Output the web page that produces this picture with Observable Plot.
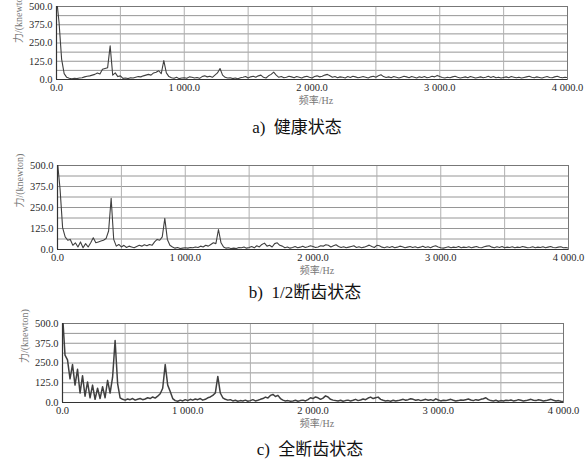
<!DOCTYPE html>
<html>
<head>
<meta charset="utf-8">
<script src="https://cdn.jsdelivr.net/npm/d3@7"></script>
<script src="https://cdn.jsdelivr.net/npm/@observablehq/plot@0.6"></script>
<style>
  html, body { margin: 0; padding: 0; background: #fff; }
  #wrap { position: relative; width: 587px; height: 460px; overflow: hidden; background: #fff; }
  .panel { position: absolute; left: 0; }
  .panel svg text { font-family: "Liberation Serif", "Noto Sans CJK SC", serif; }
  .cap { position: absolute; width: 240px; text-align: center; white-space: pre;
         font-family: "Liberation Serif", "Noto Sans CJK SC", serif; font-size: 17px; line-height: 20px; color: #111; }
</style>
</head>
<body>
<div id="wrap"></div>
<script>
// ---- data ----
const freqStepHz = 20;                       // spectrum sampled every 20 Hz, 0..4000 Hz
const freqs = d3.range(0, 4001, freqStepHz);
const xTicks = [0, 1000, 2000, 3000, 4000];
const xGrid = [500, 1000, 1500, 2000, 2500, 3000, 3500];
const yTicks = [0, 125, 250, 375, 500];
const yGrid = [62.5, 125, 187.5, 250, 312.5, 375, 437.5];
const yLabel = "力/(knewton)";
const xLabel = "频率/Hz";
const captions = ["a)  健康状态", "b)  1/2断齿状态", "c)  全断齿状态"];

// a) healthy
const valsA = [
  560,390,140,40,15,8,5,8,6,10,
  12,18,22,25,30,35,45,38,70,75,
  80,230,30,45,20,25,8,10,6,12,
  10,15,20,18,25,30,35,30,45,50,
  60,40,130,45,20,12,8,15,6,10,
  12,8,18,15,10,14,8,20,25,18,
  22,15,30,45,75,30,15,10,12,6,
  10,5,12,15,20,10,18,22,15,25,
  30,15,10,25,35,50,30,15,20,12,
  15,22,18,12,20,15,10,18,22,15,
  10,20,25,18,22,30,35,25,15,20,
  12,18,15,10,20,14,22,18,12,16,
  20,15,10,18,22,16,25,32,20,14,
  18,12,20,15,10,16,22,18,12,20,
  15,10,18,14,20,12,16,22,18,28,
  20,14,10,16,12,18,22,15,10,14,
  18,12,20,16,10,14,18,12,16,22,
  14,20,12,16,10,14,18,12,20,16,
  12,16,10,14,18,22,15,12,18,14,
  10,16,20,14,12,18,22,16,12,15,
  14
];
// b) half broken tooth
const valsB = [
  520,360,130,75,55,60,25,40,15,45,
  10,35,15,40,70,40,45,50,55,65,
  110,305,60,20,30,15,25,12,20,15,
  10,18,25,20,28,22,30,25,45,60,
  55,75,185,60,25,15,8,12,6,8,
  10,8,12,10,15,12,20,15,25,20,
  30,40,35,119,40,15,8,10,5,8,
  6,12,10,15,8,12,18,10,22,15,
  30,38,20,25,15,35,40,25,20,10,
  15,8,12,18,10,14,20,12,16,22,
  18,12,15,22,20,28,25,15,22,28,
  18,12,16,10,14,18,22,12,16,10,
  14,20,26,18,12,25,22,14,10,16,
  12,18,10,14,20,16,10,14,18,12,
  16,10,14,20,12,16,10,18,22,15,
  10,8,12,16,10,14,12,18,10,14,
  12,16,10,14,18,12,10,16,20,22,
  14,10,16,12,18,10,14,12,16,10,
  14,12,18,14,10,12,16,10,14,12,
  16,10,14,18,12,10,14,16,10,12,
  8
];
// c) fully broken tooth
const valsC = [
  560,300,270,150,240,110,210,60,170,40,
  130,30,110,20,90,25,100,30,140,60,
  160,392,120,30,20,15,22,18,25,15,
  20,25,18,22,30,25,35,28,40,55,
  90,240,110,70,25,12,8,15,10,18,
  12,20,15,22,18,25,15,20,30,35,
  45,60,165,60,30,20,15,18,10,14,
  8,12,10,15,8,12,18,10,14,20,
  25,34,28,45,51,38,45,25,15,10,
  12,8,10,14,8,12,15,10,18,30,
  25,35,30,20,28,42,35,20,15,12,
  10,14,8,12,15,10,14,20,12,16,
  22,18,28,34,25,30,34,20,14,10,
  12,8,14,10,12,16,20,14,18,24,
  20,14,18,12,16,20,14,18,12,23,
  16,10,14,12,16,20,14,10,12,16,
  14,18,22,16,12,18,14,20,24,30,
  18,12,10,14,8,12,10,14,12,16,
  10,12,18,14,10,12,16,20,14,12,
  17,14,10,12,16,20,14,10,12,8,
  6
];

// ---- drawing ----
const loc = d3.formatLocale({decimal: ".", thousands: " ", grouping: [3], currency: ["", ""]});
const fmtX = loc.format(",.1f");
const fmtY = d3.format(".1f");
const FONT = "Liberation Serif, Noto Sans CJK SC, serif";

const panels = [
  {vals: valsA, top: 0,   mt: 6,  ph: 73, ml: 56, mr: 20, sw: 1.1, capX: 297, capY: 128},
  {vals: valsB, top: 155, mt: 10, ph: 84, ml: 57, mr: 19, sw: 1.1, capX: 305, capY: 293},
  {vals: valsC, top: 313, mt: 10, ph: 79, ml: 62, mr: 24, sw: 1.5, capX: 310, capY: 450}
];

const wrap = document.getElementById("wrap");
panels.forEach((p, k) => {
  const rows = freqs.map((f, i) => ({f, v: p.vals[i]}));
  const mb = 34;
  const chart = Plot.plot({
    width: 587,
    height: p.mt + p.ph + mb,
    marginTop: p.mt, marginBottom: mb, marginLeft: p.ml, marginRight: p.mr,
    style: {fontFamily: FONT, fontSize: "10.5px", color: "#2a2a2a", background: "transparent", overflow: "visible"},
    x: {domain: [0, 4000]},
    y: {domain: [0, 500]},
    marks: [
      Plot.gridY({ticks: yGrid, stroke: "#8a8a8a", strokeOpacity: 1, strokeWidth: 0.9}),
      Plot.gridX({ticks: xGrid, stroke: "#b0b0b0", strokeOpacity: 1, strokeWidth: 1}),
      Plot.frame({stroke: "#777", strokeWidth: 1}),
      Plot.line(rows, {x: "f", y: "v", stroke: "#404040", strokeWidth: p.sw, clip: true}),
      Plot.ruleX([0], {stroke: "#333", strokeWidth: 1.2}),
      Plot.ruleY([0], {stroke: "#333", strokeWidth: 1.2}),
      Plot.axisY({ticks: yTicks, tickFormat: fmtY, tickSize: 0, tickPadding: 4, label: null, fontFamily: FONT, fontSize: 10.5}),
      Plot.axisX({ticks: xTicks, tickFormat: fmtX, tickSize: 0, tickPadding: 4, label: null, fontFamily: FONT, fontSize: 10.5}),
      Plot.text([yLabel], {frameAnchor: "left", dx: -38, rotate: -90, fill: "#777", fontSize: 10, fontFamily: FONT}),
      Plot.text([xLabel], {frameAnchor: "bottom", dx: 4, dy: 24, fill: "#777", fontSize: 10, fontFamily: FONT})
    ]
  });
  const box = document.createElement("div");
  box.className = "panel";
  box.style.top = p.top + "px";
  box.appendChild(chart);
  wrap.appendChild(box);

  const cap = document.createElement("div");
  cap.className = "cap";
  cap.textContent = captions[k];
  cap.style.left = (p.capX - 120) + "px";
  cap.style.top = (p.capY - 10) + "px";
  wrap.appendChild(cap);
});
</script>
</body>
</html>
